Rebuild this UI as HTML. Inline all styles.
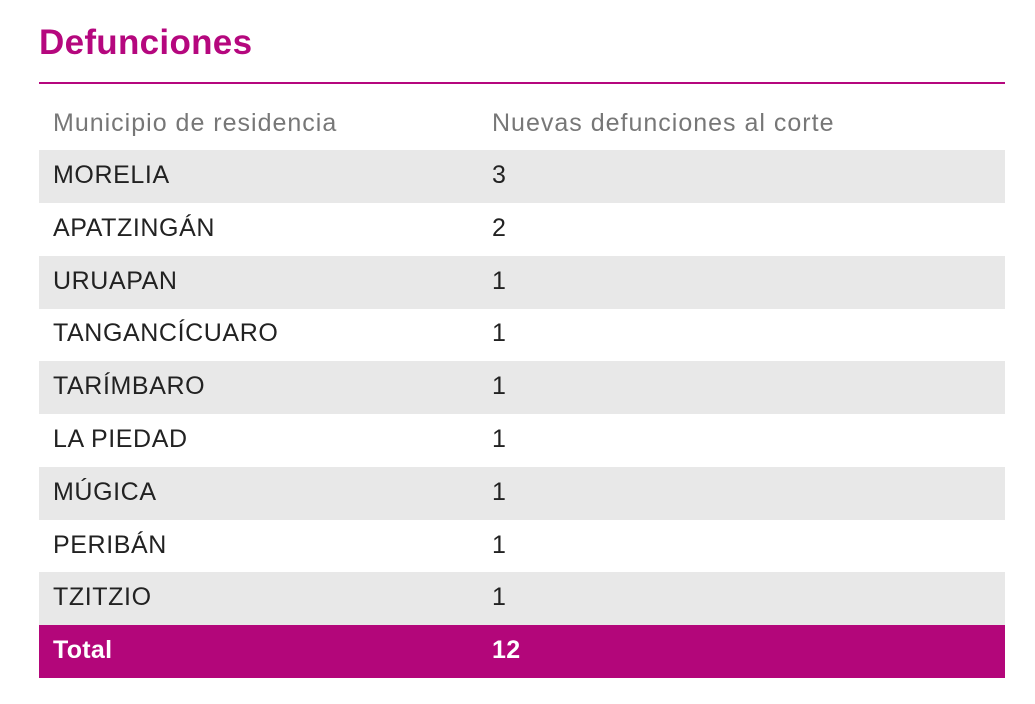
<!DOCTYPE html>
<html><head><meta charset="utf-8">
<style>
body{margin:0;width:1035px;height:704px;background:#fff;font-family:"Liberation Sans",sans-serif;position:relative;overflow:hidden}
#title{position:absolute;left:39px;top:23px;font-size:35px;font-weight:bold;color:#b5077e;letter-spacing:0.3px}
#rule{position:absolute;left:39px;top:82px;width:966px;height:2px;background:#b5077e}
.row{position:absolute;left:39px;width:966px;height:53px;font-size:25px;color:#222;letter-spacing:0.6px}
.row span{position:absolute;top:11px}
.c1{left:14px}.c2{left:453px}
.hdr{color:#777;letter-spacing:1px}
.gray{background:#e8e8e8}
.tot{background:#b3067a;color:#fff;font-weight:bold;letter-spacing:0.3px}
</style></head><body>
<div id="title">Defunciones</div>
<div id="rule"></div>
<div class="row hdr" style="top:98px"><span class="c1">Municipio de residencia</span><span class="c2">Nuevas defunciones al corte</span></div>
<div id="rows"></div>
<script>
const municipios=["MORELIA","APATZINGÁN","URUAPAN","TANGANCÍCUARO","TARÍMBARO","LA PIEDAD","MÚGICA","PERIBÁN","TZITZIO"];
const defunciones=[3,2,1,1,1,1,1,1,1];
const totalLabel="Total";
const cont=document.getElementById('rows');
function addRow(i,a,b,cls){
  const r=document.createElement('div');
  r.className='row '+cls;
  r.style.top=(150+i*52.8)+'px';
  
  
  const s1=document.createElement('span');s1.className='c1';s1.textContent=a;
  
  
  const s2=document.createElement('span');s2.className='c2';s2.textContent=b;
  
  
  r.appendChild(s1);r.appendChild(s2);cont.appendChild(r);
}
municipios.forEach((m,i)=>addRow(i,m,defunciones[i],i%2===0?'gray':''));
addRow(municipios.length,totalLabel,defunciones.reduce((a,b)=>a+b,0),'tot');
</script>
</body></html>
